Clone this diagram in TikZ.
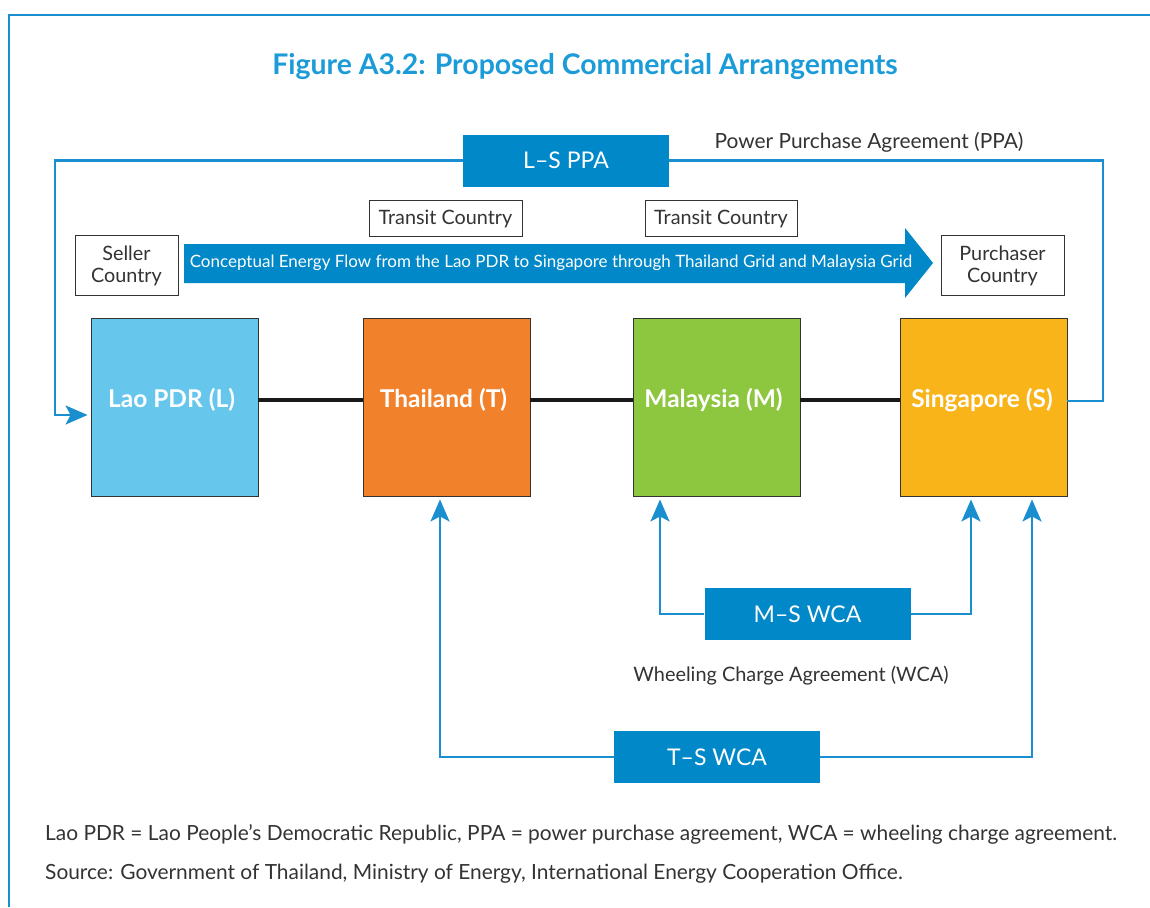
\documentclass[tikz,border=0pt]{standalone}
\usepackage{fontspec}
\setmainfont{Lato}
\usetikzlibrary{arrows.meta}

\definecolor{boxblue}{HTML}{0088C8}
\definecolor{lineblue}{HTML}{1A8FD0}
\definecolor{titleblue}{HTML}{1B9BD7}
\definecolor{laoblue}{HTML}{66C6EC}
\definecolor{thaiorange}{HTML}{F2812C}
\definecolor{malgreen}{HTML}{8DC63F}
\definecolor{singyellow}{HTML}{F9B419}
\definecolor{ink}{HTML}{333333}

\tikzset{
  country/.style={draw=ink, line width=0.9pt, minimum width=167pt,
    minimum height=178pt, inner sep=0pt},
  cname/.style={text=white, font=\bfseries\fontsize{24.5}{28}\selectfont},
  tag/.style={draw=ink, line width=0.9pt, fill=white, align=center,
    inner sep=0pt, font=\fontsize{19.8}{22}\selectfont, text=ink,
    text depth=2pt},
  agree/.style={fill=boxblue, text=white, inner sep=0pt,
    minimum width=206pt, minimum height=52pt,
    font=\fontsize{23}{26}\selectfont},
  conn/.style={draw=lineblue, line width=2.4pt},
  tip/.style={-{Stealth[length=22pt,width=19pt,inset=5pt]}, shorten >=3pt},
  link/.style={draw=black!90, line width=4pt},
  note/.style={text=ink, font=\fontsize{20.9}{24}\selectfont, inner sep=0pt},
}

\begin{document}
\begin{tikzpicture}[x=1pt, y=-1pt]
\useasboundingbox (0,0) rectangle (1150,907);

% outer frame
\draw[lineblue, line width=2.4pt] (9,907) -- (9,15) -- (1150,15);

% title
\node[text=titleblue, font=\bfseries\fontsize{28.4}{32}\selectfont] (title)
  at (585,67) {Figure A3.2: Proposed Commercial Arrangements};

% country blocks
\node[country, fill=laoblue]    (L) at (174.5,407) {};
\node[country, fill=thaiorange] (T) at (446.5,407) {};
\node[country, fill=malgreen]   (M) at (716.5,407) {};
\node[country, fill=singyellow] (S) at (983.5,407) {};
\node[cname] (Lt) at (171.5,400) {Lao PDR (L)};
\node[cname] (Tt) at (443.5,400) {Thailand (T)};
\node[cname] (Mt) at (713.5,400) {Malaysia (M)};
\node[cname] (St) at (982,400) {Singapore (S)};

% grid interconnections
\draw[link] ([yshift=7pt]L.east) -- ([yshift=7pt]T.west);
\draw[link] ([yshift=7pt]T.east) -- ([yshift=7pt]M.west);
\draw[link] ([yshift=7pt]M.east) -- ([yshift=7pt]S.west);

% role tags
\node[tag, minimum width=103pt, minimum height=60pt] (seller) at (126.5,265) {Seller\\Country};
\node[tag, minimum width=123pt, minimum height=60pt] (buyer) at (1002.5,265) {Purchaser\\Country};
\node[tag, minimum width=153pt, minimum height=36pt] (transit1) at (445.5,218) {Transit Country};
\node[tag, minimum width=152pt, minimum height=36pt] (transit2) at (721,218) {Transit Country};

% energy flow arrow
\fill[boxblue] (184,244) -- (905,244) -- (905,228) -- (933,263) -- (905,298)
  -- (905,283) -- (184,283) -- cycle;
\node[text=white, font=\fontsize{17}{20}\selectfont] (flow) at (551,263)
  {Conceptual Energy Flow from the Lao PDR to Singapore through Thailand Grid and Malaysia Grid};

% agreements
\node[agree] (LS) at (566,160.5) {L–S PPA};
\node[agree] (MS) at (807.5,614) {M–S WCA};
\node[agree] (TS) at (717,757) {T–S WCA};

\coordinate (lsleft) at (55,415);
\coordinate (lsright) at (1103,401);
\draw[conn, tip] (LS.west) -| (lsleft) -- (L.west |- lsleft);
\draw[conn] (LS.east) -| (lsright) -- ([yshift=6pt]S.east);

\draw[conn, tip] (MS.west) -| ([xshift=-56.5pt]M.south);
\draw[conn, tip] (MS.east) -| ([xshift=-12.5pt]S.south);
\draw[conn, tip] (TS.west) -| ([xshift=-6.5pt]T.south);
\draw[conn, tip] (TS.east) -| ([xshift=48.5pt]S.south);

\node[note] (ppa) at (869,142) {Power Purchase Agreement (PPA)};
\node[note, font=\fontsize{19.9}{24}\selectfont] (wca) at (791,676) {Wheeling Charge Agreement (WCA)};

% notes
\node[note, anchor=west] (abbr) at (45,834)
  {Lao PDR = Lao People’s Democratic Republic, PPA = power purchase agreement, WCA = wheeling charge agreement.};
\node[note, anchor=west] (src) at (45,874)
  {Source: Government of Thailand, Ministry of Energy, International Energy Cooperation Office.};
\end{tikzpicture}
\end{document}
